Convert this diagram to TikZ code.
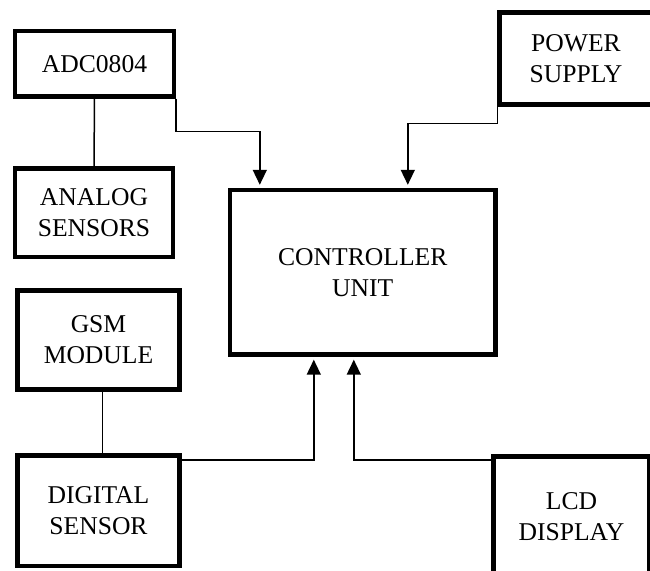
\documentclass[tikz,border=0pt]{standalone}
\usepackage{fontspec}
\setmainfont{Liberation Serif}
\usetikzlibrary{arrows.meta,calc}

\begin{document}
\begin{tikzpicture}[x=0.5pt,y=-0.5pt,>={Triangle[length=7.5pt,width=7pt]},
  block/.style={draw,line width=2.2pt,align=center,inner sep=0pt,font=\fontsize{12.8}{15.5}\selectfont},
  wire/.style={line width=0.75pt},
  conn/.style={->,line width=0.75pt,shorten >=1.5pt}]
\useasboundingbox (0,0) rectangle (650,571);
\clip (0,0) rectangle (650,571);
\node[block,minimum width=79.5pt,minimum height=32.75pt] (adc) at (94.5,63.75) {ADC0804};
\node[block,minimum width=79pt,minimum height=44.25pt] (ana) at (94,212.75) {ANALOG\\SENSORS};
\node[block,minimum width=132.75pt,minimum height=82.25pt] (ctrl) at (362.75,272.25) {CONTROLLER\\UNIT};
\node[block,minimum width=76.5pt,minimum height=46pt] (pwr) at (576,58.5) {POWER\\SUPPLY};
\node[block,minimum width=81pt,minimum height=49.5pt] (gsm) at (98.5,340) {GSM\\MODULE};
\node[block,minimum width=81pt,minimum height=55.25pt] (dig) at (98.5,510.75) {DIGITAL\\SENSOR};
\node[block,minimum width=78pt,minimum height=59.75pt] (lcd) at (571.5,516.25) {LCD\\DISPLAY};
\draw[wire] (adc.south) -- (ana.north);
\draw[wire] ($(gsm.south)+(4,0)$) -- ($(dig.north)+(4,0)$);
\draw[conn] (adc.south east) -- ++(0,33) -| ($(ctrl.north west)+(32,0)$);
\draw[conn] (pwr.south west) -- ++(0,17) -| ($(ctrl.north west)+(180,0)$);
\draw[conn] ($(dig.north east)+(0,6.5)$) -| ($(ctrl.south west)+(86,0)$);
\draw[conn] ($(lcd.north west)+(0,5.5)$) -| ($(ctrl.south west)+(126,0)$);
\end{tikzpicture}
\end{document}
